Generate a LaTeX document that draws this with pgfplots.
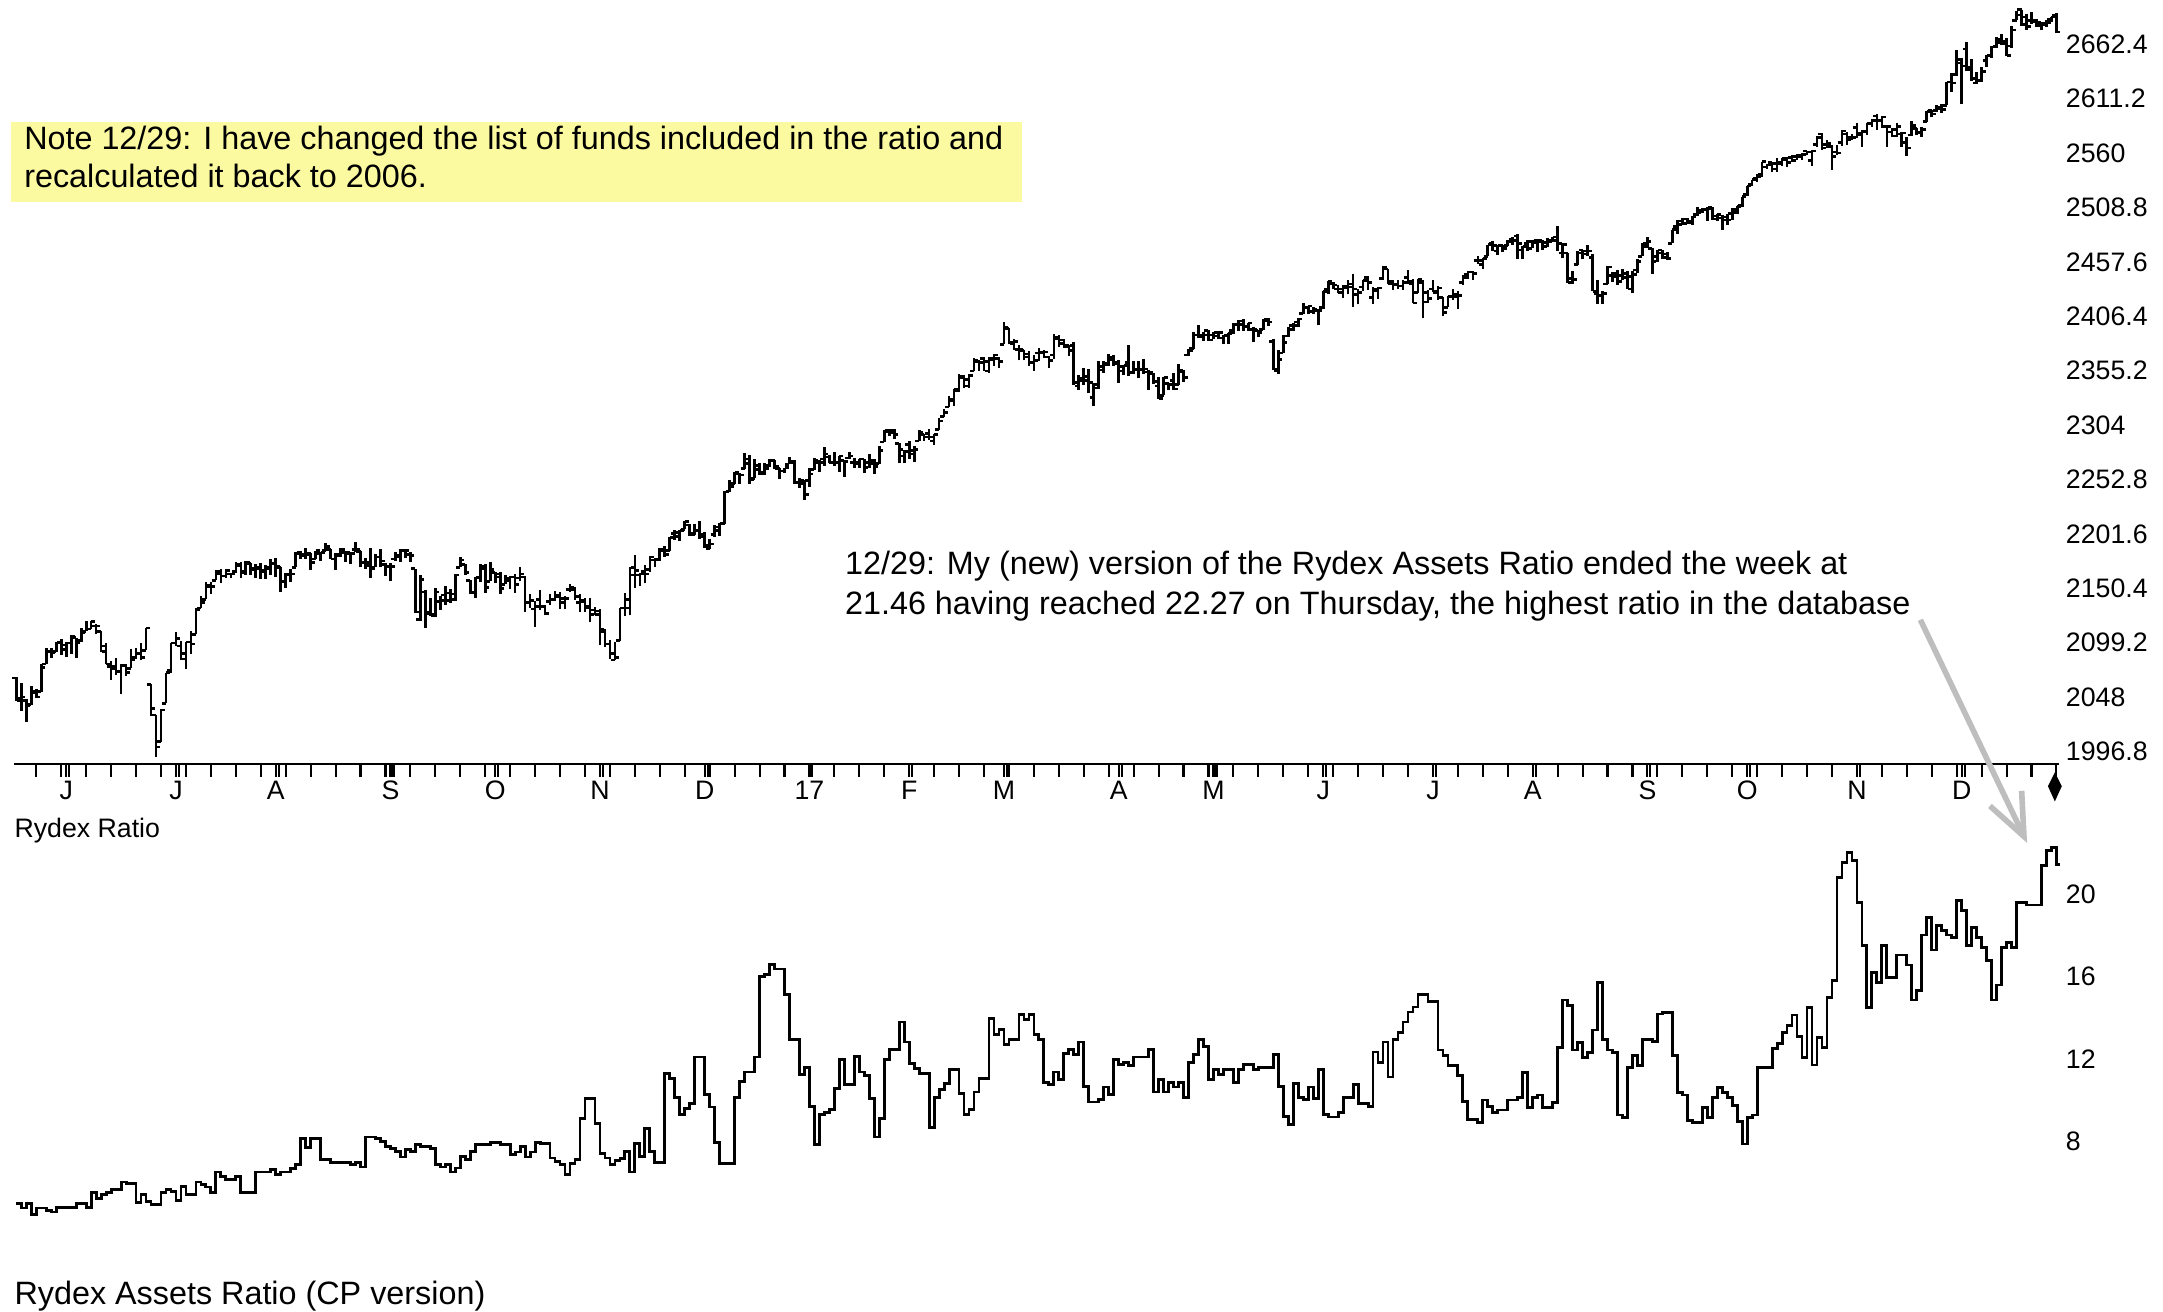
\documentclass[border=0pt]{standalone}
\usepackage{fontspec}
\setmainfont{Liberation Sans}
\usepackage{pgfplots}
\usepackage{pgfplotstable}
\pgfplotsset{compat=1.18}
\usetikzlibrary{arrows.meta}

\definecolor{noteyellow}{RGB}{252,250,160}
\definecolor{arrowgray}{RGB}{190,190,190}

% open tick to the left, close tick to the right
\pgfdeclareplotmark{openl}{%
  \pgfpathmoveto{\pgfqpoint{-\pgfplotmarksize}{0pt}}%
  \pgfpathlineto{\pgfqpoint{0pt}{0pt}}%
  \pgfusepathqstroke}
\pgfdeclareplotmark{closer}{%
  \pgfpathmoveto{\pgfqpoint{0pt}{0pt}}%
  \pgfpathlineto{\pgfqpoint{\pgfplotmarksize}{0pt}}%
  \pgfusepathqstroke}

% daily bars, d = trading day from 17 May 2016
\pgfplotstableread{
d o h l c
0 2066 2067 2044 2047
1 2045 2061 2035 2048
2 2045 2046 2025 2040
3 2041 2058 2041 2052
4 2053 2056 2047 2048
5 2053 2079 2053 2076
6 2079 2094 2079 2091
7 2091 2094 2085 2090
8 2091 2100 2090 2099
9 2100 2103 2088 2097
10 2093 2100 2086 2099
11 2099 2106 2089 2105
12 2104 2104 2085 2099
13 2101 2113 2100 2109
14 2110 2120 2110 2112
15 2112 2120 2112 2119
16 2115 2117 2107 2115
17 2110 2110 2090 2096
18 2091 2099 2079 2079
19 2077 2082 2064 2075
20 2077 2085 2069 2072
21 2072 2079 2051 2078
22 2078 2079 2068 2071
23 2075 2093 2075 2083
24 2085 2094 2084 2089
25 2089 2099 2083 2085
26 2092 2113 2092 2113
27 2060 2060 2030 2037
28 2031 2031 1992 2001
29 2006 2037 2006 2036
30 2042 2071 2042 2071
31 2073 2099 2071 2099
32 2099 2109 2096 2103
33 2096 2101 2083 2089
34 2084 2100 2074 2100
35 2100 2110 2089 2098
36 2107 2132 2107 2130
37 2132 2143 2132 2137
38 2140 2156 2140 2152
39 2153 2156 2145 2152
40 2158 2168 2158 2164
41 2166 2169 2155 2162
42 2162 2169 2160 2167
43 2164 2164 2160 2164
44 2166 2175 2165 2173
45 2172 2175 2160 2165
46 2166 2176 2163 2175
47 2174 2174 2163 2168
48 2169 2173 2160 2169
49 2170 2174 2159 2167
50 2166 2172 2159 2170
51 2169 2178 2163 2174
52 2174 2179 2161 2171
53 2170 2170 2147 2157
54 2157 2165 2151 2164
55 2163 2169 2156 2164
56 2170 2185 2170 2183
57 2184 2186 2178 2181
58 2182 2188 2178 2182
59 2183 2184 2168 2175
60 2178 2186 2178 2186
61 2183 2184 2176 2184
62 2186 2193 2186 2190
63 2187 2187 2178 2178
64 2178 2184 2168 2182
65 2181 2188 2180 2187
66 2184 2185 2175 2184
67 2183 2184 2173 2183
68 2187 2194 2185 2187
69 2185 2186 2170 2175
70 2175 2179 2169 2172
71 2175 2188 2160 2169
72 2170 2183 2170 2180
73 2180 2187 2170 2176
74 2173 2174 2162 2171
75 2171 2174 2157 2171
76 2178 2185 2176 2180
77 2181 2187 2175 2186
78 2186 2187 2179 2186
79 2182 2185 2175 2181
80 2169 2169 2127 2128
81 2121 2163 2120 2159
82 2147 2149 2113 2127
83 2128 2141 2124 2126
84 2125 2151 2123 2147
85 2138 2143 2130 2139
86 2144 2153 2135 2139
87 2146 2150 2137 2140
88 2145 2164 2138 2163
89 2170 2180 2170 2177
90 2173 2173 2163 2165
91 2158 2158 2145 2146
92 2147 2161 2141 2160
93 2161 2173 2156 2171
94 2169 2173 2146 2151
95 2157 2175 2157 2168
96 2165 2166 2155 2161
97 2164 2166 2145 2150
98 2154 2163 2154 2160
99 2158 2162 2150 2161
100 2161 2164 2146 2154
101 2160 2170 2157 2164
102 2161 2162 2128 2137
103 2137 2145 2132 2139
104 2131 2138 2114 2133
105 2140 2149 2130 2133
106 2133 2135 2125 2127
107 2138 2145 2135 2140
108 2140 2148 2138 2144
109 2143 2147 2131 2141
110 2137 2143 2131 2141
111 2149 2154 2147 2151
112 2149 2152 2139 2143
113 2137 2145 2128 2139
114 2138 2141 2128 2133
115 2132 2141 2119 2126
116 2130 2133 2125 2126
117 2129 2131 2097 2112
118 2110 2112 2095 2098
119 2098 2102 2084 2089
120 2083 2100 2083 2085
121 2101 2132 2101 2132
122 2132 2146 2124 2140
123 2132 2170 2125 2163
124 2170 2182 2151 2167
125 2163 2165 2153 2164
126 2166 2172 2155 2164
127 2168 2181 2166 2180
128 2177 2179 2170 2177
129 2178 2188 2176 2187
130 2186 2190 2180 2182
131 2186 2199 2186 2198
132 2202 2205 2196 2203
133 2199 2205 2195 2205
134 2206 2214 2206 2213
135 2210 2211 2200 2202
136 2201 2211 2201 2205
137 2205 2214 2197 2199
138 2201 2203 2188 2191
139 2188 2197 2187 2192
140 2201 2210 2199 2205
141 2208 2212 2200 2212
142 2211 2242 2211 2241
143 2242 2252 2241 2246
144 2249 2260 2249 2260
145 2258 2259 2249 2257
146 2263 2278 2263 2272
147 2268 2276 2249 2253
148 2254 2272 2254 2262
149 2266 2268 2257 2258
150 2260 2268 2257 2263
151 2266 2272 2265 2271
152 2271 2271 2263 2265
153 2263 2264 2253 2261
154 2261 2264 2259 2264
155 2267 2274 2267 2269
156 2270 2271 2249 2250
157 2250 2254 2245 2249
158 2252 2252 2234 2239
159 2252 2264 2246 2258
160 2262 2273 2262 2271
161 2269 2271 2260 2269
162 2272 2283 2266 2277
163 2274 2276 2268 2269
164 2269 2279 2266 2269
165 2269 2275 2260 2275
166 2271 2271 2255 2270
167 2273 2279 2272 2275
168 2269 2273 2264 2268
169 2269 2272 2264 2272
170 2272 2272 2259 2264
171 2269 2277 2264 2271
172 2268 2272 2258 2265
173 2268 2284 2267 2280
174 2288 2299 2288 2298
175 2299 2300 2294 2297
176 2299 2300 2291 2295
177 2287 2287 2268 2281
178 2275 2281 2268 2279
179 2286 2289 2272 2280
180 2277 2284 2269 2281
181 2289 2299 2289 2297
182 2295 2296 2289 2293
183 2296 2300 2290 2293
184 2289 2296 2285 2295
185 2300 2311 2299 2308
186 2312 2319 2312 2316
187 2321 2331 2321 2328
188 2327 2338 2322 2338
189 2336 2352 2335 2349
190 2350 2351 2339 2347
191 2341 2352 2339 2351
192 2355 2367 2355 2365
193 2364 2365 2355 2363
194 2367 2368 2355 2364
195 2355 2368 2353 2367
196 2366 2371 2360 2370
197 2367 2368 2358 2364
198 2380 2401 2380 2396
199 2395 2395 2380 2382
200 2381 2385 2375 2383
201 2375 2379 2365 2375
202 2374 2375 2365 2368
203 2371 2374 2360 2363
204 2363 2370 2355 2365
205 2372 2377 2364 2373
206 2372 2375 2367 2373
207 2368 2369 2358 2365
208 2370 2390 2366 2385
209 2387 2389 2378 2381
210 2384 2385 2377 2378
211 2379 2379 2369 2374
212 2379 2382 2342 2344
213 2341 2351 2337 2348
214 2346 2358 2342 2346
215 2350 2357 2334 2344
216 2330 2344 2322 2342
217 2339 2364 2338 2359
218 2356 2364 2353 2361
219 2362 2371 2360 2368
220 2366 2370 2360 2363
221 2362 2365 2344 2359
222 2355 2361 2351 2360
223 2363 2379 2350 2353
224 2354 2364 2352 2357
225 2356 2364 2348 2356
226 2357 2366 2352 2357
227 2354 2356 2337 2354
228 2352 2353 2343 2345
229 2341 2349 2329 2329
230 2332 2349 2332 2349
231 2343 2344 2337 2342
232 2346 2353 2337 2338
233 2342 2362 2342 2356
234 2354 2356 2345 2349
235 2370 2376 2369 2374
236 2376 2392 2376 2389
237 2389 2398 2386 2387
238 2389 2392 2383 2389
239 2393 2394 2383 2384
240 2389 2392 2385 2388
241 2391 2392 2385 2391
242 2386 2389 2380 2388
243 2389 2391 2380 2390
244 2393 2400 2390 2399
245 2399 2403 2393 2399
246 2402 2404 2393 2397
247 2397 2400 2393 2400
248 2394 2396 2382 2394
249 2393 2394 2387 2391
250 2394 2404 2394 2402
251 2404 2405 2397 2401
252 2383 2385 2356 2357
253 2355 2375 2352 2366
254 2372 2389 2372 2382
255 2388 2396 2387 2394
256 2398 2400 2393 2398
257 2401 2405 2396 2404
258 2409 2419 2409 2415
259 2415 2416 2409 2416
260 2411 2415 2409 2413
261 2412 2413 2398 2412
262 2415 2430 2413 2430
263 2432 2440 2427 2439
264 2437 2439 2432 2436
265 2432 2436 2428 2429
266 2432 2436 2424 2433
267 2435 2441 2427 2434
268 2437 2446 2415 2432
269 2427 2432 2418 2429
270 2434 2441 2430 2440
271 2443 2444 2431 2438
272 2424 2434 2418 2432
273 2431 2434 2423 2433
274 2442 2454 2441 2453
275 2451 2451 2437 2437
276 2439 2441 2431 2436
277 2437 2441 2432 2435
278 2435 2441 2431 2438
279 2443 2450 2437 2439
280 2437 2442 2419 2419
281 2429 2442 2428 2441
282 2438 2441 2405 2420
283 2429 2431 2419 2423
284 2432 2441 2429 2429
285 2430 2435 2422 2433
286 2424 2425 2407 2410
287 2415 2426 2415 2425
288 2425 2432 2422 2427
289 2425 2430 2413 2426
290 2438 2445 2436 2443
291 2446 2449 2442 2448
292 2448 2449 2441 2447
293 2459 2463 2456 2459
294 2455 2461 2451 2461
295 2463 2474 2463 2474
296 2475 2477 2468 2473
297 2468 2474 2464 2473
298 2473 2474 2467 2470
299 2473 2478 2473 2477
300 2479 2481 2474 2478
301 2482 2484 2460 2475
302 2469 2473 2460 2472
303 2475 2478 2468 2470
304 2477 2478 2471 2476
305 2478 2478 2467 2478
306 2477 2478 2469 2472
307 2476 2480 2472 2477
308 2478 2481 2476 2481
309 2478 2491 2468 2475
310 2466 2475 2461 2474
311 2466 2466 2438 2438
312 2442 2449 2437 2441
313 2455 2468 2455 2466
314 2469 2469 2460 2465
315 2468 2474 2463 2468
316 2462 2465 2430 2430
317 2428 2441 2418 2426
318 2426 2430 2418 2428
319 2437 2454 2437 2453
320 2445 2448 2439 2444
321 2447 2450 2436 2439
322 2445 2451 2441 2443
323 2447 2449 2432 2444
324 2432 2449 2428 2446
325 2450 2460 2447 2458
326 2463 2475 2463 2472
327 2475 2481 2471 2477
328 2470 2471 2446 2458
329 2463 2469 2458 2466
330 2469 2469 2460 2465
331 2462 2467 2459 2461
332 2475 2488 2475 2488
333 2491 2497 2484 2496
334 2493 2499 2492 2498
335 2494 2499 2493 2496
336 2495 2501 2492 2500
337 2502 2509 2501 2504
338 2506 2508 2504 2507
339 2507 2509 2496 2508
340 2509 2509 2497 2501
341 2498 2503 2496 2502
342 2499 2502 2488 2497
343 2500 2503 2492 2497
344 2503 2508 2497 2507
345 2504 2510 2503 2510
346 2511 2519 2509 2519
347 2521 2529 2520 2529
348 2531 2535 2529 2535
349 2536 2540 2533 2538
350 2540 2552 2538 2552
351 2547 2550 2545 2549
352 2551 2552 2542 2545
353 2550 2555 2542 2551
354 2550 2555 2548 2555
355 2554 2556 2547 2551
356 2556 2558 2552 2553
357 2557 2559 2554 2558
358 2557 2560 2554 2559
359 2562 2562 2558 2561
360 2553 2563 2548 2562
361 2568 2576 2566 2575
362 2578 2579 2563 2565
363 2568 2572 2565 2569
364 2566 2568 2544 2557
365 2561 2568 2558 2560
366 2570 2582 2567 2581
367 2578 2580 2568 2573
368 2575 2578 2572 2575
369 2584 2588 2574 2579
370 2577 2582 2566 2580
371 2581 2588 2577 2588
372 2588 2592 2585 2591
373 2595 2597 2582 2591
374 2591 2595 2584 2594
375 2585 2585 2566 2585
376 2580 2584 2575 2582
377 2576 2588 2575 2585
378 2578 2580 2566 2579
379 2570 2575 2557 2565
380 2577 2590 2576 2586
381 2583 2584 2577 2579
382 2580 2585 2575 2582
383 2590 2600 2589 2599
384 2600 2601 2594 2597
385 2600 2605 2599 2602
386 2603 2606 2598 2601
387 2605 2627 2605 2627
388 2627 2635 2618 2626
389 2634 2657 2633 2648
390 2645 2650 2606 2642
391 2658 2665 2637 2639
392 2641 2649 2628 2630
393 2626 2636 2625 2629
394 2628 2641 2627 2637
395 2647 2652 2641 2652
396 2652 2661 2650 2660
397 2661 2669 2659 2664
398 2667 2672 2662 2663
399 2665 2668 2651 2652
400 2661 2680 2659 2676
401 2685 2694 2685 2690
402 2695 2695 2680 2681
403 2688 2691 2676 2679
404 2685 2693 2682 2685
405 2684 2686 2679 2683
406 2680 2683 2676 2681
407 2682 2685 2679 2683
408 2686 2688 2683 2688
409 2690 2692 2673 2674
}\spx

% Rydex ratio, step values by trading day
\pgfplotstableread{
d r
0 4.96
1 4.75
2 4.96
3 4.45
4 4.75
6 4.63
7 4.55
8 4.79
12 4.96
14 4.79
15 5.52
16 5.20
17 5.39
18 5.52
19 5.64
21 6.01
22 5.93
24 5.02
25 5.39
26 5.07
27 4.91
29 5.52
30 5.64
31 5.56
32 5.12
33 5.80
34 5.39
36 6.01
37 5.88
38 5.77
39 5.52
40 6.50
41 6.28
42 6.12
44 6.28
45 5.52
48 6.50
51 6.61
52 6.37
53 6.50
55 6.66
56 6.85
57 8.12
58 7.71
59 8.12
61 7.10
63 6.98
67 6.85
68 6.98
69 6.74
70 8.20
72 8.12
73 7.99
74 7.74
75 7.63
76 7.50
77 7.23
78 7.58
79 7.50
80 7.82
81 7.74
83 7.63
84 6.85
85 6.74
86 6.85
87 6.50
88 6.69
89 7.26
90 7.10
91 7.50
92 7.82
95 7.95
97 7.82
99 7.34
100 7.47
101 7.74
102 7.23
103 7.47
104 7.95
105 7.87
107 7.18
108 7.02
109 6.85
110 6.37
111 6.93
112 7.10
113 9.09
114 10.06
116 8.85
117 7.39
118 7.18
119 6.85
120 7.06
121 7.15
122 7.50
123 6.50
124 7.87
125 7.26
126 8.60
127 7.50
128 6.98
130 11.28
131 11.03
132 10.14
133 9.28
134 9.58
135 9.82
136 12.09
138 10.26
139 9.66
140 7.95
141 6.90
144 10.14
145 10.90
146 11.36
148 12.09
149 16.01
150 16.09
151 16.58
152 16.37
154 15.12
155 12.93
157 11.23
158 11.60
159 9.69
160 7.83
161 9.28
162 9.41
163 9.53
164 10.55
165 11.96
166 10.74
168 12.12
169 11.36
170 11.20
171 10.06
172 8.20
173 9.09
174 11.96
175 12.44
177 13.79
178 12.82
179 11.76
180 11.52
181 11.28
183 8.68
184 10.14
185 10.50
186 10.82
187 11.47
189 10.30
190 9.28
191 9.53
192 10.39
193 11.03
195 13.95
196 13.17
197 13.42
198 12.69
199 12.93
201 14.15
202 13.90
203 14.15
204 13.17
205 12.93
206 10.87
207 10.74
208 11.36
209 10.98
210 12.25
211 12.44
212 12.20
213 12.82
214 10.66
215 9.90
217 10.01
218 10.63
219 10.26
220 11.96
221 11.71
222 11.84
223 11.68
224 12.09
227 12.44
228 10.39
229 10.98
230 10.39
231 10.87
232 10.63
233 10.87
234 10.14
235 11.84
236 12.20
237 12.93
238 12.61
239 10.98
240 11.47
241 11.23
242 11.47
244 10.87
245 11.47
246 11.71
248 11.47
249 11.60
252 12.20
253 10.66
254 9.20
255 8.80
256 10.79
257 10.14
258 10.01
259 10.63
260 10.09
261 11.47
262 9.28
263 9.17
265 9.41
266 10.14
268 10.74
269 9.82
271 9.69
272 12.33
273 11.84
274 12.82
275 11.12
276 12.93
277 13.30
278 13.79
279 14.28
280 14.52
281 15.12
283 14.78
285 12.43
286 12.18
287 11.66
289 11.21
290 9.91
291 9.07
293 8.91
294 10.00
295 9.67
296 9.40
297 9.51
299 10.00
301 10.13
302 11.34
303 9.64
304 10.13
305 10.24
306 9.64
308 9.88
309 12.56
310 14.86
311 14.61
312 12.43
313 12.80
314 12.07
315 12.31
316 13.40
317 15.72
318 12.96
319 12.43
320 12.31
321 9.27
322 9.15
323 11.58
324 12.18
325 11.66
326 12.96
328 12.83
329 14.18
330 14.26
332 12.18
333 10.37
334 10.24
335 9.02
336 8.91
338 9.64
339 9.15
340 10.13
341 10.61
342 10.37
343 10.13
344 9.75
345 8.94
346 7.86
347 9.15
348 9.27
349 11.58
352 12.51
353 12.75
354 13.29
355 13.64
356 14.13
357 13.08
358 12.07
359 14.50
360 11.70
361 13.04
362 12.56
363 14.99
364 15.80
365 20.82
366 21.55
367 22.04
368 21.66
369 19.61
370 17.53
371 14.50
372 16.20
373 15.72
374 17.53
375 15.96
377 17.05
379 16.56
380 14.86
381 15.34
382 18.02
383 18.88
384 17.29
385 18.50
386 18.26
387 18.02
388 17.90
389 19.72
390 19.23
391 17.53
392 18.39
393 17.90
394 17.42
395 16.80
396 14.86
397 15.59
398 17.42
399 17.66
400 17.42
401 19.61
403 19.48
406 21.42
407 22.15
408 22.27
409 21.46
409.8 21.46
}\rydex

\pgfplotsset{
  chartfont/.style={font=\fontsize{7.6}{9}\selectfont},
}

\begin{document}
\begin{tikzpicture}
\def\pxu{0.13865mm}
\path[use as bounding box] (0,0) rectangle (1560*\pxu,-946*\pxu);

% note box
\fill[noteyellow] (8*\pxu,-88*\pxu) rectangle (737*\pxu,-146*\pxu);
\node[anchor=base west, inner sep=0pt, font=\fontsize{9.2}{11}\selectfont]
  at (17*\pxu,-108*\pxu) {Note 12/29: I have changed the list of funds included in the ratio and};
\node[anchor=base west, inner sep=0pt, font=\fontsize{9.2}{11}\selectfont]
  at (17*\pxu,-135*\pxu) {recalculated it back to 2006.};

% price panel
\begin{axis}[
  at={(10*\pxu,-551*\pxu)}, anchor=south west, scale only axis,
  width=204.51mm, height=76.40mm,
  xmin=-0.5, xmax=409.5, ymin=1985.05, ymax=2704.16,
  axis x line*=bottom, axis y line*=right,
  x axis line style={line width=0.8pt},
  y axis line style={draw=none},
  tick align=outside,
  major tick length=3.6pt, minor tick length=3.6pt,
  every tick/.style={black, line width=0.6pt},
  xtick={10,32,52,75,96,117,138,159,179,198,221,240,262,284,304,327,347,369,390},
  xticklabels={J,J,A,S,O,N,D,17,F,M,A,M,J,J,A,S,O,N,D},
  minor xtick={4,9,...,409},
  extra x ticks={10.6,32.6,52.6,75.6,96.6,117.6,138.6,159.6,179.6,198.6,221.6,240.6,262.6,284.6,304.6,327.6,347.6,369.6,390.6},
  extra x tick labels={},
  xticklabel style={chartfont, anchor=center, inner sep=0pt},
  xticklabel shift=4.0pt,
  ytick={1996.8,2048,2099.2,2150.4,2201.6,2252.8,2304,2355.2,2406.4,2457.6,2508.8,2560,2611.2,2662.4},
  yticklabels={1996.8,2048,2099.2,2150.4,2201.6,2252.8,2304,2355.2,2406.4,2457.6,2508.8,2560,2611.2,2662.4},
  ytick style={draw=none},
  yticklabel style={chartfont, anchor=west, inner sep=0pt},
  yticklabel shift=-1.8pt,
  clip=false,
]
\addplot[draw=none, mark=none,
  error bars/.cd, y dir=plus, y explicit, error mark=none,
  error bar style={draw=black, solid, line width=0.75pt}]
  table[x=d, y=l, y error expr=\thisrow{h}-\thisrow{l}] {\spx};
\addplot[only marks, mark=openl, mark size=1.15pt,
  mark options={black, line width=0.75pt}]
  table[x=d, y=o] {\spx};
\addplot[only marks, mark=closer, mark size=1.15pt,
  mark options={black, line width=0.75pt}]
  table[x=d, y=c] {\spx};
\end{axis}

% ratio panel
\begin{axis}[
  at={(10*\pxu,-895*\pxu)}, anchor=south west, scale only axis,
  width=204.51mm, height=40.21mm,
  xmin=-0.5, xmax=409.5, ymin=3.146, ymax=22.697,
  axis x line=none, axis y line*=right,
  y axis line style={draw=none},
  tick align=outside, major tick length=3.6pt,
  ytick={8,12,16,20},
  yticklabels={8,12,16,20},
  ytick style={draw=none},
  yticklabel style={chartfont, anchor=west, inner sep=0pt},
  yticklabel shift=-1.8pt,
  clip=false,
]
\addplot[const plot, black, line width=0.8pt] table[x=d, y=r] {\rydex};
\end{axis}

% end-of-data marker
\fill (1482*\pxu,-557*\pxu) -- (1487*\pxu,-567*\pxu) -- (1482*\pxu,-578*\pxu)
  -- (1477*\pxu,-567*\pxu) -- cycle;

\node[anchor=base west, inner sep=0pt, font=\fontsize{7.6}{9}\selectfont]
  at (10*\pxu,-604*\pxu) {Rydex Ratio};

% annotation and arrow
\node[anchor=base west, inner sep=0pt, font=\fontsize{9.2}{11}\selectfont]
  at (609*\pxu,-414*\pxu) {12/29: My (new) version of the Rydex Assets Ratio ended the week at};
\node[anchor=base west, inner sep=0pt, font=\fontsize{9.2}{11}\selectfont]
  at (609*\pxu,-443*\pxu) {21.46 having reached 22.27 on Thursday, the highest ratio in the database};
\draw[arrowgray, line width=1.6pt, -{Straight Barb[length=12pt,width=10pt]}]
  (1385*\pxu,-447*\pxu) -- (1462*\pxu,-608*\pxu);

\node[anchor=base west, inner sep=0pt, font=\fontsize{9.2}{11}\selectfont]
  at (10*\pxu,-941*\pxu) {Rydex Assets Ratio (CP version)};
\end{tikzpicture}
\end{document}
